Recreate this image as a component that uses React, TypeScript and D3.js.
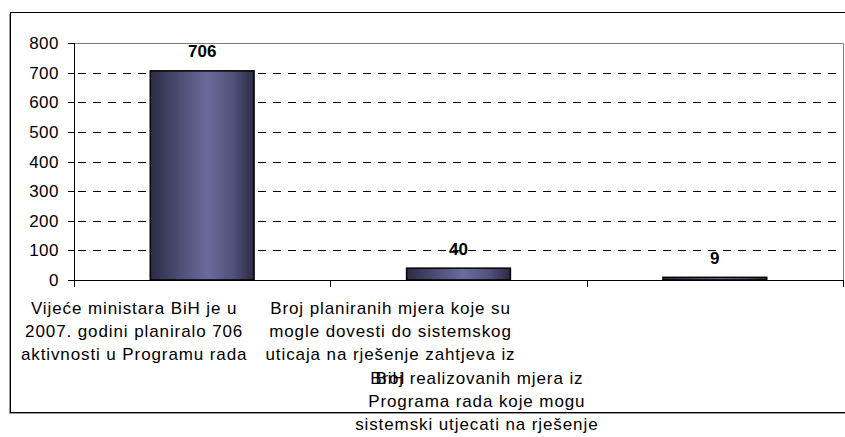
import React from "react";
import * as d3 from "d3";

const categoryLines: string[][] = [
  ["Vijeće ministara BiH je u", "2007. godini planiralo 706", "aktivnosti u Programu rada"],
  ["Broj planiranih mjera koje su", "mogle dovesti do sistemskog", "uticaja na rješenje zahtjeva iz", "BiH"],
  ["Broj realizovanih mjera iz", "Programa rada koje mogu", "sistemski utjecati na rješenje"],
];
const values: number[] = [706, 40, 9];
const yTicks: number[] = [0, 100, 200, 300, 400, 500, 600, 700, 800];

const W = 845;
const H = 437;
const FONT = "'Liberation Sans', Arial, sans-serif";

export default function App() {
  const left = 74;
  const right = 843;
  const top = 43;
  const bottom = 280;

  const x = d3
    .scaleBand<number>()
    .domain(values.map((_, i) => i))
    .range([left, right])
    .paddingInner(0.595)
    .paddingOuter(0.2975);
  const y = d3.scaleLinear().domain([0, 800]).range([bottom, top]);
  const step = x.step();
  const crisp = (v: number) => Math.round(v) + 0.5;

  // label placement (as rendered in the reference)
  const labelDx = [-68, -68, -238];
  const labelStart = [313.7, 313.7, 383.6];
  const lineH = 23.3;

  const boundaries = d3.range(values.length + 1).map((i) => left + i * step);

  return (
    <svg
      width={W}
      height={H}
      style={{ position: "absolute", left: 0, top: 0, background: "#fff" }}
      fontFamily={FONT}
    >
      <defs>
        <linearGradient id="barGrad" x1="0" x2="1" y1="0" y2="0">
          <stop offset="0" stopColor="#2b2b43" />
          <stop offset="0.3" stopColor="#4f4f78" />
          <stop offset="0.55" stopColor="#6b6b9c" />
          <stop offset="0.8" stopColor="#50507a" />
          <stop offset="1" stopColor="#2b2b43" />
        </linearGradient>
      </defs>

      {/* chart border with shadow */}
      <line x1={9.5} x2={9.5} y1={14} y2={414} stroke="#999" />
      <line x1={9.5} x2={W} y1={413.5} y2={413.5} stroke="#999" />
      <rect x={10.5} y={12.5} width={W} height={400} fill="none" stroke="#000" />

      {/* gridlines */}
      {yTicks
        .filter((t) => t > 0 && t < 800)
        .map((t) => (
          <line
            key={"g" + t}
            x1={left}
            x2={right}
            y1={crisp(y(t))}
            y2={crisp(y(t))}
            stroke="#000"
            strokeDasharray="8 7"
            strokeDashoffset={11}
          />
        ))}

      {/* plot area border top/right */}
      <line x1={left} x2={right + 0.5} y1={crisp(y(800))} y2={crisp(y(800))} stroke="#808080" />
      <line x1={right + 0.5} x2={right + 0.5} y1={crisp(y(800))} y2={crisp(y(0))} stroke="#808080" />

      {/* bars */}
      {values.map((v, i) => (
        <rect
          key={"b" + i}
          x={x(i)!}
          y={y(v)}
          width={x.bandwidth()}
          height={y(0) - y(v)}
          fill="url(#barGrad)"
          stroke="#000"
          strokeWidth={1.5}
        />
      ))}

      {/* value labels */}
      {values.map((v, i) => (
        <text
          key={"v" + i}
          x={x(i)! + x.bandwidth() / 2}
          y={y(v) - 13.5}
          textAnchor="middle"
          fontSize={17}
          fontWeight="bold"
          fill="#000"
        >
          {v}
        </text>
      ))}

      {/* y axis */}
      <line x1={left + 0.5} x2={left + 0.5} y1={top} y2={bottom + 7} stroke="#000" />
      {yTicks.map((t) => (
        <g key={"t" + t}>
          <line x1={left - 6} x2={left} y1={crisp(y(t))} y2={crisp(y(t))} stroke="#000" />
          <text
            x={59}
            y={y(t) + 6}
            textAnchor="end"
            fontSize={17}
            letterSpacing={0.5}
            fill="#000"
          >
            {t}
          </text>
        </g>
      ))}

      {/* x axis */}
      <line x1={left} x2={right + 1} y1={crisp(y(0))} y2={crisp(y(0))} stroke="#000" />
      {boundaries.map((b, i) => (
        <line
          key={"xt" + i}
          x1={crisp(b)}
          x2={crisp(b)}
          y1={bottom}
          y2={bottom + 7}
          stroke="#000"
        />
      ))}

      {/* category labels */}
      {categoryLines.map((lines, i) => (
        <text
          key={"c" + i}
          textAnchor="middle"
          fontSize={17}
          letterSpacing={0.9}
          fill="#000"
        >
          {lines.map((ln, j) => (
            <tspan
              key={j}
              x={x(i)! + x.bandwidth() / 2 + labelDx[i]}
              y={labelStart[i] + j * lineH}
            >
              {ln}
            </tspan>
          ))}
        </text>
      ))}
    </svg>
  );
}
